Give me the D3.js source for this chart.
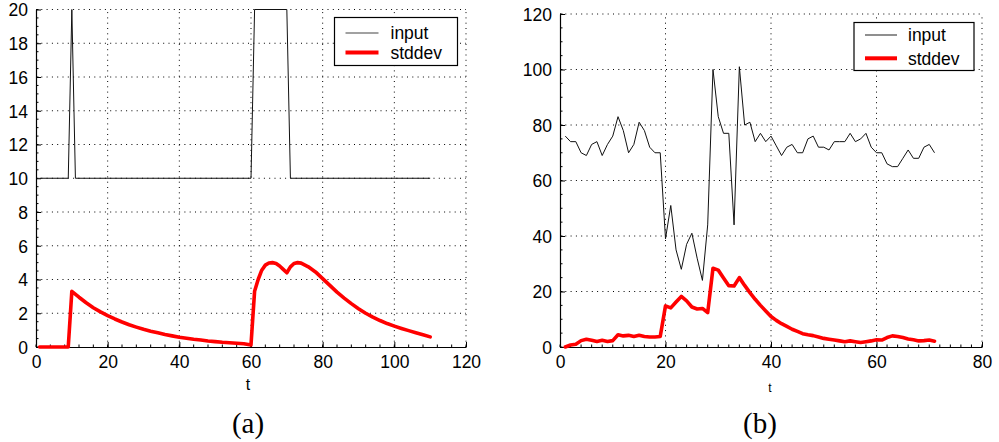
<!DOCTYPE html>
<html>
<head>
<meta charset="utf-8">
<script src="https://cdn.jsdelivr.net/npm/d3@7"></script>
<style>
  html, body { margin: 0; padding: 0; background: #fff; }
  svg { display: block; }
  text { font-family: "Liberation Sans", Arial, Helvetica, sans-serif; fill: #000; }
</style>
</head>
<body>
<svg id="fig" width="999" height="442"></svg>
<script>
// ---- panel (a): step input and its running standard deviation ----
const aInputT   = [1, 9, 10, 11, 60, 61, 70, 71, 110];
const aInputVal = [10, 10, 20, 10, 10, 20, 20, 10, 10];

const aStdT = [1, 9, 10, 12, 14, 16, 18, 20, 22, 24, 26, 28, 30, 32, 34, 36, 38, 40, 42, 44, 46, 48, 50, 52, 54, 56, 58, 60,
               61, 62, 63, 64, 65, 66, 67, 68, 69, 70, 71, 72, 73, 74, 76, 78, 80, 82, 84, 86, 88, 90, 92, 94, 96, 98, 100,
               102, 104, 106, 108, 110];
const aStdVal = [0, 0, 3.3, 2.95, 2.62, 2.33, 2.08, 1.86, 1.66, 1.48, 1.32, 1.18, 1.05, 0.94, 0.84, 0.74, 0.66, 0.58, 0.52,
                 0.46, 0.41, 0.36, 0.32, 0.28, 0.25, 0.22, 0.19, 0.12,
                 3.3, 4.0, 4.55, 4.85, 4.98, 5.0, 4.95, 4.8, 4.6, 4.4, 4.75, 4.95, 5.0, 4.97, 4.75, 4.45, 4.05, 3.65, 3.25,
                 2.9, 2.57, 2.27, 2.0, 1.77, 1.57, 1.39, 1.24, 1.1, 0.97, 0.85, 0.73, 0.6];

const aXTicks = [0, 20, 40, 60, 80, 100, 120];
const aYTicks = [0, 2, 4, 6, 8, 10, 12, 14, 16, 18, 20];

// ---- panel (b): measured input and its running standard deviation ----
const bT = d3.range(1, 72); // t = 1 … 71
const bInputVal = [76, 74, 74, 70, 69, 73, 74, 69, 73, 76, 83, 78, 70, 73, 81, 78, 72, 70, 70,
                   39, 51, 35, 28, 37, 41, 32, 24, 44, 100, 83, 77, 77, 44, 101, 80, 81, 74, 77, 74,
                   76, 72.5, 69, 72, 73, 70, 70, 75, 76, 72, 72, 71, 74, 74, 74, 77, 74, 75, 77, 72,
                   70, 70, 66, 65, 65, 68, 71, 68, 68, 72, 73, 70];
const bStdVal = [0, 0.7, 1.0, 2.3, 2.8, 2.4, 2.0, 2.4, 2.0, 2.3, 4.4, 4.0, 4.2, 3.8, 4.2, 3.8, 3.6, 3.6, 3.8,
                 14.8, 14.1, 16.2, 18.2, 16.6, 14.4, 13.7, 13.9, 12.4, 28.4, 27.7, 24.9, 22.1, 22.0, 25.0, 22.2,
                 19.6, 17.2, 15.0, 13.0, 11.0, 9.6, 8.4, 7.4, 6.4, 5.6, 4.8, 4.4, 4.1, 3.6, 3.1, 2.8, 2.5, 2.2,
                 1.9, 2.2, 1.9, 1.6, 1.9, 2.2, 2.6, 2.5, 3.4, 4.0, 3.8, 3.4, 2.9, 2.6, 2.2, 2.3, 2.5, 2.1];

const bXTicks = [0, 20, 40, 60, 80];
const bYTicks = [0, 20, 40, 60, 80, 100, 120];

const seriesNames = ["input", "stddev"];

const svg = d3.select("#fig");

function panel(cfg) {
  const x = d3.scaleLinear().domain(cfg.xDomain).range(cfg.xRange);
  const y = d3.scaleLinear().domain(cfg.yDomain).range(cfg.yRange);
  const g = svg.append("g");
  const [x0, x1] = cfg.xRange;
  const [y0, y1] = cfg.yRange;

  // dotted grid at every major tick (including the far edges)
  const grid = g.append("g").attr("stroke", "#000").attr("stroke-width", 1)
    .attr("stroke-dasharray", "1,4.3").attr("fill", "none");
  cfg.xTicks.forEach(v => {
    if (v === cfg.xDomain[0]) return;
    grid.append("line").attr("x1", x(v)).attr("x2", x(v)).attr("y1", y0).attr("y2", y1);
  });
  cfg.yTicks.forEach(v => {
    if (v === cfg.yDomain[0]) return;
    grid.append("line").attr("x1", x0).attr("x2", x1).attr("y1", y(v)).attr("y2", y(v));
  });

  // minor ticks on the two solid axes
  const minor = g.append("g").attr("stroke", "#000").attr("stroke-width", 1);
  d3.range(cfg.xDomain[0], cfg.xDomain[1] + 1e-9, cfg.xMinor).forEach(v => {
    minor.append("line").attr("x1", x(v)).attr("x2", x(v)).attr("y1", y0).attr("y2", y0 - 2.5);
  });
  d3.range(cfg.yDomain[0], cfg.yDomain[1] + 1e-9, cfg.yMinor).forEach(v => {
    minor.append("line").attr("x1", x0).attr("x2", x0 + 2.5).attr("y1", y(v)).attr("y2", y(v));
  });

  // axes: ticks pointing inwards
  const xAxis = d3.axisBottom(x).tickValues(cfg.xTicks).tickSize(-5).tickPadding(9).tickSizeOuter(0);
  const yAxis = d3.axisLeft(y).tickValues(cfg.yTicks).tickSize(-5).tickPadding(8).tickSizeOuter(0);
  const gx = g.append("g").attr("transform", `translate(0,${y0})`).call(xAxis);
  const gy = g.append("g").attr("transform", `translate(${x0},0)`).call(yAxis);
  [gx, gy].forEach(a => {
    a.select(".domain").attr("stroke", "#000").attr("stroke-width", 1.2);
    a.selectAll(".tick line").attr("stroke", "#000");
    a.selectAll(".tick text").attr("font-size", cfg.tickFont).attr("fill", "#000")
      .style("font-family", '"Liberation Sans", Arial, sans-serif');
  });
  gx.selectAll(".tick text").attr("dy", "0.71em");
  gy.selectAll(".tick text").attr("dy", "0.36em");

  // data lines
  const line = d3.line().x(d => x(d[0])).y(d => y(d[1]));
  g.append("path").datum(cfg.inputT.map((t, i) => [t, cfg.inputVal[i]]))
    .attr("d", line).attr("fill", "none").attr("stroke", "#111").attr("stroke-width", 1)
    .attr("stroke-linejoin", "round");
  g.append("path").datum(cfg.stdT.map((t, i) => [t, cfg.stdVal[i]]))
    .attr("d", line).attr("fill", "none").attr("stroke", "#ff0000").attr("stroke-width", 3.6)
    .attr("stroke-linejoin", "round").attr("stroke-linecap", "round");

  // x-axis title
  g.append("text").attr("x", cfg.tX).attr("y", cfg.tY).attr("text-anchor", "middle")
    .attr("font-size", cfg.tFont).text("t");

  // legend
  const L = cfg.legend;
  const lg = g.append("g");
  lg.append("rect").attr("x", L.x).attr("y", L.y).attr("width", L.w).attr("height", L.h)
    .attr("fill", "#fff").attr("stroke", "#000").attr("stroke-width", 1.2);
  const colors = ["#444", "#ff0000"], widths = [1.2, 4];
  seriesNames.forEach((name, i) => {
    const ly = L.y + L.row0 + i * L.rowGap;
    lg.append("line").attr("x1", L.x + L.lineX0).attr("x2", L.x + L.lineX1).attr("y1", ly).attr("y2", ly)
      .attr("stroke", colors[i]).attr("stroke-width", widths[i]);
    lg.append("text").attr("x", L.x + L.textX).attr("y", ly).attr("dy", "0.36em")
      .attr("font-size", L.font).text(name);
  });

  // panel caption
  svg.append("text").attr("x", cfg.capX).attr("y", 433).attr("text-anchor", "middle")
    .attr("font-size", 29).style("font-family", '"Liberation Serif", "DejaVu Serif", serif')
    .text(cfg.caption);
}

panel({
  xDomain: [0, 120], yDomain: [0, 20], xRange: [36, 466], yRange: [347, 9.5],
  xTicks: aXTicks, yTicks: aYTicks, xMinor: 4, yMinor: 0.5, tickFont: 17.5,
  inputT: aInputT, inputVal: aInputVal, stdT: aStdT, stdVal: aStdVal,
  tX: 248, tY: 390, tFont: 16,
  legend: { x: 334.5, y: 17.5, w: 123, h: 48, row0: 15.5, rowGap: 19.5, lineX0: 11, lineX1: 44, textX: 56, font: 17.5 },
  capX: 248, caption: "(a)"
});

panel({
  xDomain: [0, 80], yDomain: [0, 120], xRange: [560, 982], yRange: [347, 14],
  xTicks: bXTicks, yTicks: bYTicks, xMinor: 2, yMinor: 5, tickFont: 17.5,
  inputT: bT, inputVal: bInputVal, stdT: bT, stdVal: bStdVal,
  tX: 770, tY: 392, tFont: 12,
  legend: { x: 854, y: 22.5, w: 120, h: 48, row0: 12.5, rowGap: 23.3, lineX0: 11, lineX1: 43, textX: 54, font: 17.5 },
  capX: 760, caption: "(b)"
});
</script>
</body>
</html>
